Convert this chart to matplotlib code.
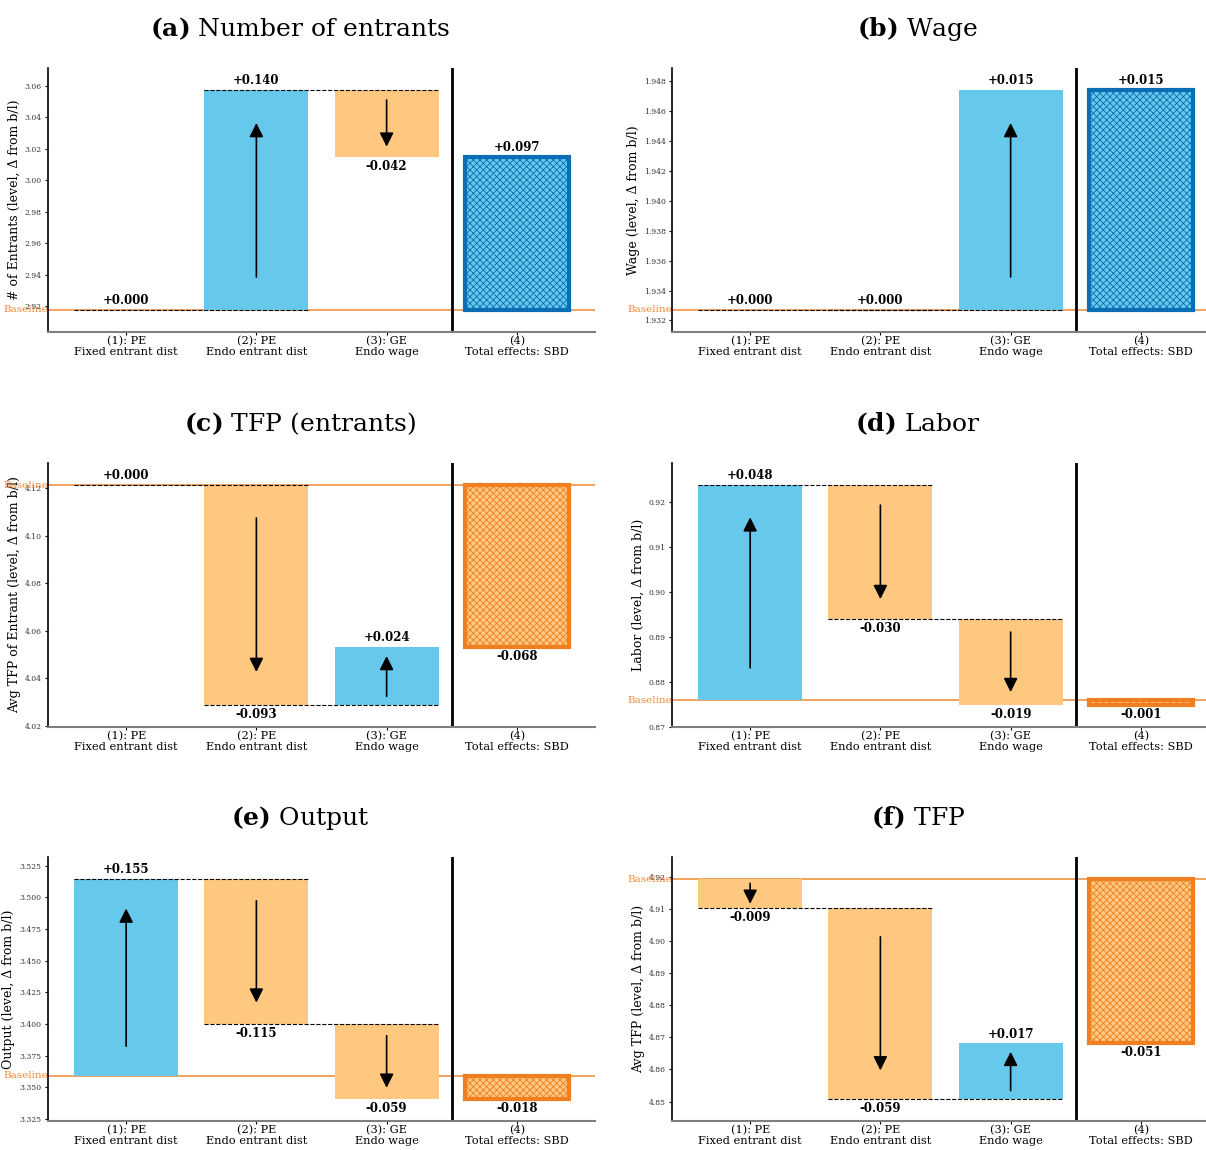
import matplotlib.pyplot as plt
import matplotlib.transforms as mtransforms
import numpy as np

plt.rcParams['font.family'] = 'DejaVu Serif'
plt.rcParams['mathtext.fontset'] = 'dejavuserif'
plt.rcParams['hatch.linewidth'] = 0.6

# data
categories = ["(1): PE\nFixed entrant dist", "(2): PE\nEndo entrant dist",
              "(3): GE\nEndo wage", "(4)\nTotal effects: SBD"]
titles = [r"$\mathbf{(a)}$ Number of entrants", r"$\mathbf{(b)}$ Wage",
          r"$\mathbf{(c)}$ TFP (entrants)", r"$\mathbf{(d)}$ Labor",
          r"$\mathbf{(e)}$ Output", r"$\mathbf{(f)}$ TFP"]
ylabels = ["# of Entrants (level, Δ from b/l)", "Wage (level, Δ from b/l)",
           "Avg TFP of Entrant (level, Δ from b/l)", "Labor (level, Δ from b/l)",
           "Output (level, Δ from b/l)", "Avg TFP (level, Δ from b/l)"]
baselines = [2.9175, 1.9327, 4.1214, 0.8759, 3.3593, 4.9193]
entrants_steps = [0.0, 0.1398, -0.0424]
wage_steps = [0.0, 0.0, 0.0147]
tfp_entrants_steps = [0.0, -0.0926, 0.0243]
labor_steps = [0.0479, -0.0299, -0.0191]
output_steps = [0.1552, -0.1148, -0.0588]
tfp_steps = [-0.0091, -0.0594, 0.0173]
all_steps = [entrants_steps, wage_steps, tfp_entrants_steps,
             labor_steps, output_steps, tfp_steps]

blue = '#66C8EA'
blue_dark = '#0A6EB4'
orange = '#FFC880'
orange_dark = '#F07F22'
base_col = '#F07F22'

fig = plt.figure(figsize=(12.06, 11.5), dpi=100)
lefts = [48 / 1206, 672 / 1206]
widths = [547 / 1206, 534 / 1206]
bottoms = [1 - 332 / 1150, 1 - 727 / 1150, 1 - 1121 / 1150]
h = 264 / 1150


def value_label(ax, x, y, v):
    if v >= 0:
        ax.annotate(f"{v:+.3f}", (x, y), xytext=(0, 2), textcoords='offset points',
                    ha='center', va='bottom', fontsize=8.5, fontweight='bold', zorder=5)
    else:
        ax.annotate(f"{v:+.3f}", (x, y), xytext=(0, -2), textcoords='offset points',
                    ha='center', va='top', fontsize=8.5, fontweight='bold', zorder=5)


def draw_panel(ax, title, ylabel, base, steps, right):
    levels = base + np.concatenate([[0.0], np.cumsum(steps)])
    w = 0.8
    for i, d in enumerate(steps):
        start = levels[i]
        if d != 0:
            ax.bar(i, d, bottom=start, width=w, color=blue if d > 0 else orange, zorder=2)
            ax.annotate('', xy=(i, start + 0.85 * d), xytext=(i, start + 0.15 * d),
                        arrowprops=dict(arrowstyle='-|>,head_length=0.6,head_width=0.3',
                                        color='black', lw=1.2, mutation_scale=14,
                                        shrinkA=0, shrinkB=0), zorder=4)
        value_label(ax, i, levels[i + 1], d)
        if i < 2:
            ax.plot([i - w / 2, i + 1 + w / 2], [levels[i + 1]] * 2, color='black',
                    ls='--', lw=0.8, zorder=3)

    total = levels[-1] - base
    if total >= 0:
        fc, ec = blue, blue_dark
    else:
        fc, ec = orange, orange_dark
    ax.bar(3, total, bottom=base, width=w, facecolor=fc, edgecolor=ec, hatch='xxxxx', lw=3, zorder=2)
    value_label(ax, 3, levels[-1], total)

    ax.axhline(base, color=base_col, lw=1.2, alpha=0.85, zorder=1)
    trans = mtransforms.blended_transform_factory(ax.transAxes, ax.transData)
    ax.text(0, base, 'Baseline', transform=trans, ha='right', va='center',
            color=base_col, fontsize=7.5, alpha=0.9)
    ax.axvline(2.5, color='black', lw=2)

    lo, hi = levels.min(), levels.max()
    pad = 0.1 * (hi - lo)
    ax.set_ylim(lo - pad, hi + pad)
    ax.set_xlim(-0.6, 3.5 if right else 3.6)
    ax.ticklabel_format(axis='y', useOffset=False)
    ax.set_xticks(range(4))
    ax.set_xticklabels(categories, fontsize=8.2, linespacing=1.1)
    ax.tick_params(axis='y', labelsize=5.5, labelcolor='#333333', length=2.5, pad=2)
    ax.tick_params(axis='x', length=2, pad=1)
    ax.set_ylabel(ylabel, fontsize=9, labelpad=3)
    ax.set_title(title, fontsize=18, x=0.46, pad=23)
    ax.spines['top'].set_visible(False)
    ax.spines['right'].set_visible(False)
    ax.spines['left'].set_linewidth(1.2)
    ax.spines['bottom'].set_color('#7f7f7f')
    ax.spines['bottom'].set_linewidth(1.5)


for k in range(6):
    row, col = k // 2, k % 2
    ax = fig.add_axes([lefts[col], bottoms[row], widths[col], h])
    draw_panel(ax, titles[k], ylabels[k], baselines[k], all_steps[k], col == 1)

fig.savefig('out.png', dpi=100)
